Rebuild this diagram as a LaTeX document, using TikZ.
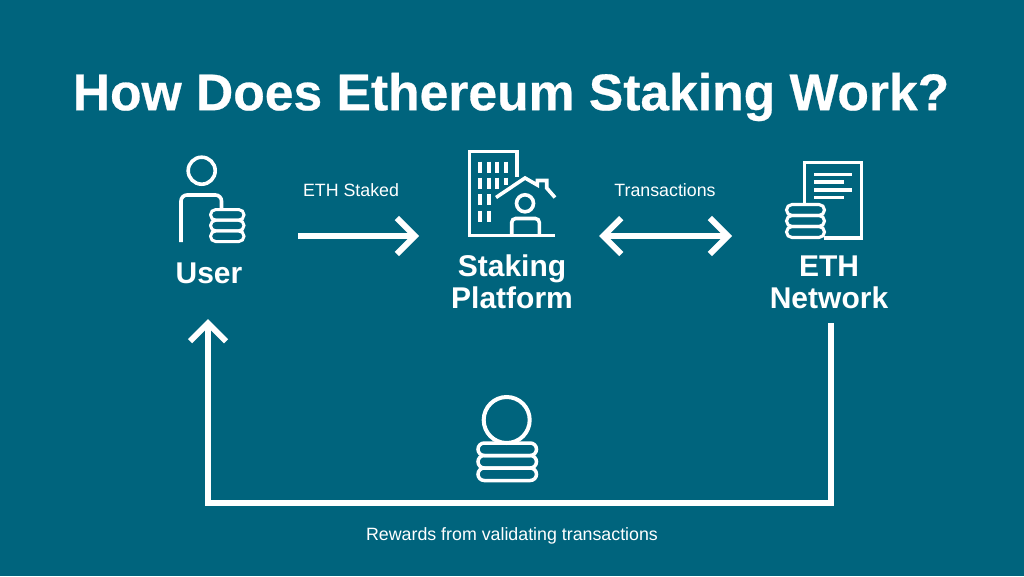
\documentclass[tikz,border=0pt]{standalone}
\usepackage{fontspec}
\usepackage{tikz}
\usetikzlibrary{arrows.meta}
\setmainfont{Liberation Sans}
\newfontfamily\headfont[FakeBold=0.5]{Liberation Sans Bold}

\definecolor{tealback}{RGB}{0,100,125}

\tikzset{
	icon/.style = {draw = white, line width = 3.6pt},
	windowbar/.style = {draw = white, line width = 4.2pt},
	flowline/.style = {draw = white, line width = 6pt},
	barb/.tip = {Straight Barb[length = 18pt, width = 36pt, line width = 6pt]},
	heading/.style = {text = white, font = \headfont\fontsize{51.6}{60}\selectfont},
	actor/.style = {text = white, align = center, font = \bfseries\fontsize{30}{32}\selectfont},
	flowtext/.style = {text = white, font = \fontsize{17.8}{20}\selectfont}
}

% x, first y, width, height of one coin
\newcommand{\coins}[4]{
	\foreach \k in {0,1,2}
		\draw[icon, line width = #4*0.28, rounded corners = #4*0.5] (#1,#2+\k*#4) rectangle (#1+#3,#2+\k*#4+#4);
}

\begin{document}
\begin{tikzpicture}[x=1pt,y=-1pt]
	\fill[fill = tealback] (0,0) rectangle (1024,576);
	\useasboundingbox (0,0) rectangle (1024,576);

	\node[heading] (title) at (511,97) {How Does Ethereum Staking Work?};

	\node[actor] (user) at (209,273) {User};
	\node[actor] (platform) at (512,282) {Staking\\Platform};
	\node[actor] (network) at (829,282) {ETH\\Network};

	\node[flowtext] (staked) at (351,190) {ETH Staked};
	\node[flowtext] (transactions) at (665,190) {Transactions};
	\node[flowtext] (rewards) at (512,536) {Rewards from validating transactions};

	% arrows
	\coordinate (stake start) at (298,236);
	\coordinate (stake end) at (419,236);
	\coordinate (tx left) at (599,236);
	\coordinate (tx right) at (732,236);
	\coordinate (reward start) at (831,323);
	\coordinate (reward corner) at (831,503);
	\coordinate (reward end) at (208,319);
	\draw[flowline, -barb] (stake start) -- (stake end);
	\draw[flowline, barb-barb] (tx left) -- (tx right);
	\draw[flowline, -barb] (reward start) -- (reward corner) -| (reward end);

	% user
	\draw[icon] (201.7,170.7) circle (13.5);
	\draw[icon, rounded corners = 6pt] (181,242) -- (181,195) -- (221.5,195) -- (221.5,210);
	\coins{210.5}{209.5}{33.5}{10.7}

	% platform
	\draw[icon] (516.7,177) -- (516.7,151.5) -- (469.5,151.5) -- (469.5,235.5) -- (555,235.5);
	\foreach \x in {480.3,488.7,497.3,505.7}
		\draw[windowbar] (\x,161.5) -- (\x,172.5);
	\foreach \x in {480.3,488.7,497.3}
		\draw[windowbar] (\x,177.5) -- (\x,188.5);
	\draw[windowbar] (505.7,177.5) -- (505.7,184.5);
	\foreach \y in {194,210.5}
		\foreach \x in {480.3,488.7}
			\draw[windowbar] (\x,\y) -- (\x,\y+11);
	\draw[icon] (496,197.5) -- (525,178) -- (537.3,185) -- (537.3,180.5) -- (546.7,180.5) -- (546.7,188) -- (555,197.5);
	\draw[icon] (525,203.3) circle (8.5);
	\draw[icon, rounded corners = 4pt] (511.7,235.5) -- (511.7,218.5) -- (539.3,218.5) -- (539.3,235.5);

	% network
	\draw[icon] (804.5,203) -- (804.5,162.5) -- (861.5,162.5) -- (861.5,238) -- (824,238);
	\foreach \y/\xend in {174.3/851.7, 182/844, 189.7/851.7, 197.3/844}
		\draw[icon] (814.3,\y) -- (\xend,\y);
	\coins{786.5}{204.5}{38}{11}

	% rewards
	\draw[icon, line width = 4pt] (506.7,420) circle (23);
	\coins{478}{443}{58.5}{12.5}
\end{tikzpicture}
\end{document}
